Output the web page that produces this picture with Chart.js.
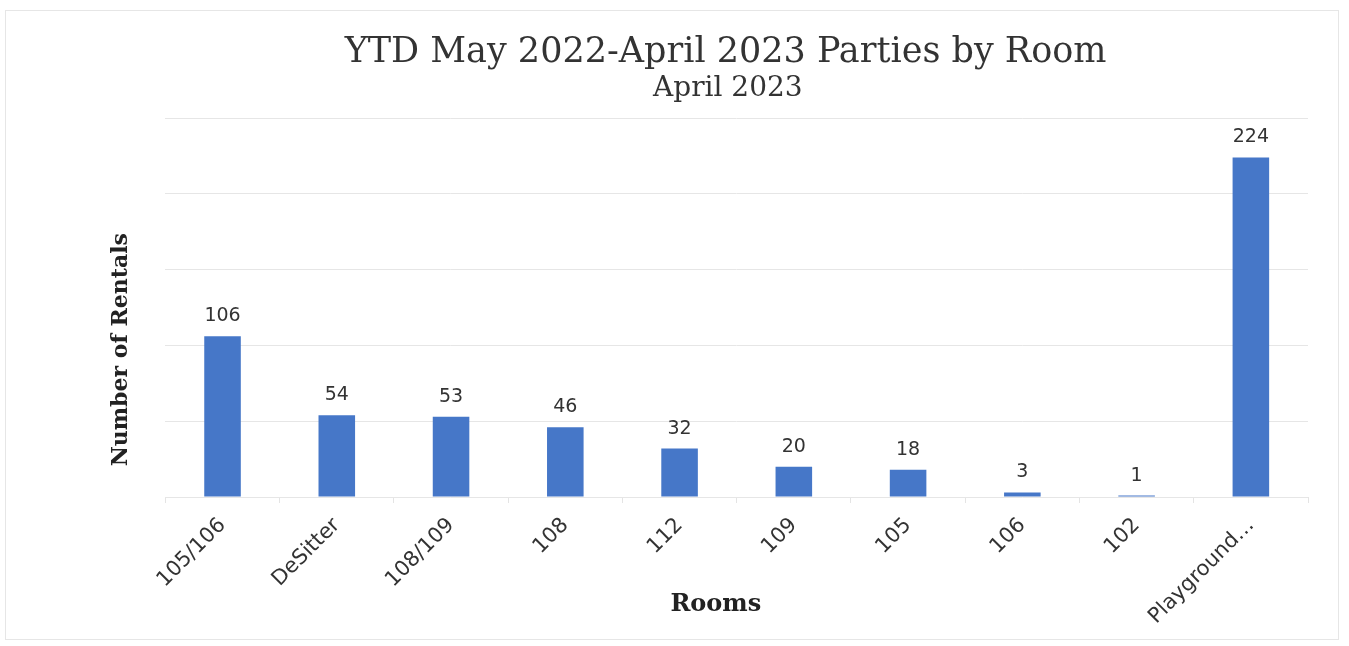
<!DOCTYPE html>
<html>
<head>
<meta charset="utf-8">
<script src="https://cdn.jsdelivr.net/npm/chart.js@4.4.0/dist/chart.umd.min.js"></script>
<style>
  html, body { margin: 0; padding: 0; background: #fff; }
  #wrap { position: absolute; left: 5px; top: 10px; width: 1334px; height: 630px; border: 1px solid #e6e6e6; box-sizing: border-box; }
  canvas { position: absolute; left: 0; top: 0; }
</style>
</head>
<body>
<div id="wrap"></div>
<canvas id="chart" width="1349" height="646"></canvas>
<script>
// data
const rooms = ['105/106', 'DeSitter', '108/109', '108', '112', '109', '105', '106', '102', 'Playground\u2026'];
const rentals = [106, 54, 53, 46, 32, 20, 18, 3, 1, 224];
const yTicks = [0, 50, 100, 150, 200, 250];

const serif = '"DejaVu Serif", "Liberation Serif", serif';
const sans = '"DejaVu Sans", "Liberation Sans", sans-serif';
const nb = n => '\u00a0'.repeat(n); // nudges centred text sideways

// value labels above each bar
const barLabels = {
    id: 'barLabels',
    afterDatasetsDraw(chart) {
        const ctx = chart.ctx;
        const meta = chart.getDatasetMeta(0);
        ctx.save();
        ctx.font = '19px ' + sans;
        ctx.fillStyle = '#333';
        ctx.textAlign = 'center';
        ctx.textBaseline = 'alphabetic';
        meta.data.forEach((bar, i) => {
            ctx.fillText(String(rentals[i]), bar.x, bar.y - 15);
        });
        ctx.restore();
    }
};

new Chart(document.getElementById('chart'), {
    type: 'bar',
    data: {
        labels: rooms,
        datasets: [{
            data: rentals,
            backgroundColor: '#4677c8',
            categoryPercentage: 1,
            barPercentage: 0.32
        }]
    },
    options: {
        responsive: false,
        animation: false,
        layout: { padding: { left: 108, right: 41, top: 35, bottom: 19 } },
        plugins: {
            legend: { display: false },
            tooltip: { enabled: false },
            title: {
                display: true,
                fullSize: false,
                text: 'YTD May 2022-April 2023 Parties by Room' + nb(2),
                font: { family: serif, size: 35, weight: 'normal', lineHeight: 1 },
                color: '#333',
                padding: { top: 0, bottom: 0 }
            },
            subtitle: {
                display: true,
                fullSize: false,
                text: 'April 2023' + nb(2),
                font: { family: serif, size: 28, weight: 'normal', lineHeight: 1 },
                color: '#333',
                padding: { top: 5, bottom: 15 }
            }
        },
        scales: {
            x: {
                grid: { display: true, drawOnChartArea: false, color: '#e4e4e4', tickLength: 6, offset: true },
                border: { display: false },
                ticks: {
                    color: '#333',
                    font: { family: sans, size: 21 },
                    minRotation: 45,
                    maxRotation: 45,
                    padding: 10
                },
                title: {
                    display: true,
                    text: 'Rooms' + nb(5),
                    color: '#222',
                    font: { family: serif, size: 24, weight: 'bold' },
                    padding: { top: -49, bottom: 8 }
                }
            },
            y: {
                min: 0,
                max: yTicks[yTicks.length - 1],
                afterBuildTicks(scale) { scale.ticks = yTicks.map(v => ({ value: v })); },
                grid: { color: '#e6e6e6', drawTicks: false },
                border: { display: false },
                ticks: { display: false },
                title: {
                    display: true,
                    text: 'Number of Rentals' + nb(11),
                    color: '#222',
                    font: { family: serif, size: 22, weight: 'bold' },
                    padding: { top: 0, bottom: 31 }
                }
            }
        }
    },
    plugins: [barLabels]
});
</script>
</body>
</html>
